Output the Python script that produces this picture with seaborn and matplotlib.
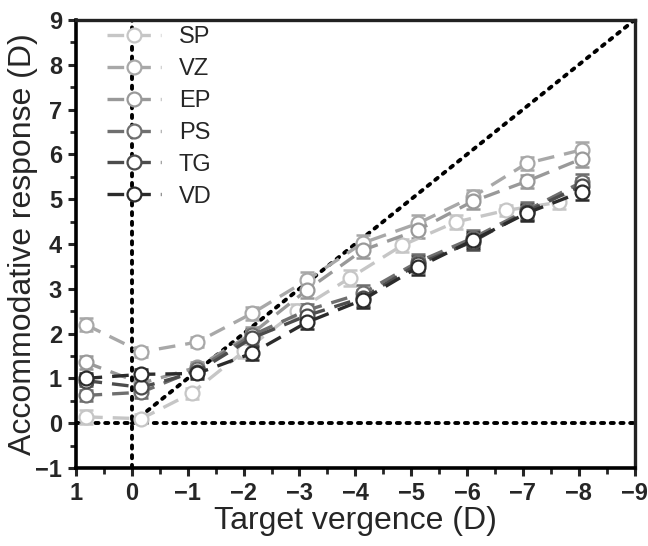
import matplotlib
matplotlib.use("Agg")
import matplotlib.pyplot as plt
import numpy as np
import pandas as pd
import seaborn as sns
from matplotlib.ticker import MultipleLocator

# target vergence (D) for each stimulus step; SP sits slightly shifted
x_main = [0.83, -0.17, -1.17, -2.15, -3.13, -4.13, -5.12, -6.10, -7.07, -8.05]
x_sp = [0.82, -0.17, -1.07, -2.00, -2.95, -3.90, -4.84, -5.80, -6.70, -7.64]

# accommodative response (D)
sp = [0.14, 0.10, 0.67, 1.60, 2.50, 3.24, 3.97, 4.49, 4.75, 4.93]
vz = [2.20, 1.59, 1.81, 2.45, 3.19, 4.02, 4.46, 5.05, 5.80, 6.10]
ep = [1.36, 0.89, 1.25, 2.00, 2.97, 3.86, 4.31, 4.95, 5.40, 5.90]
ps = [0.62, 0.69, 1.20, 1.96, 2.52, 2.90, 3.60, 4.13, 4.75, 5.38]
tg = [0.95, 0.80, 1.15, 1.90, 2.40, 2.80, 3.55, 4.05, 4.72, 5.30]
vd = [1.00, 1.09, 1.11, 1.56, 2.25, 2.75, 3.48, 4.08, 4.69, 5.16]

# standard errors (D)
sp_err = [0.15, 0.10, 0.12, 0.15, 0.15, 0.18, 0.15, 0.15, 0.12, 0.15]
vz_err = [0.15, 0.12, 0.12, 0.15, 0.18, 0.18, 0.18, 0.15, 0.15, 0.18]
ep_err = [0.15, 0.12, 0.12, 0.15, 0.18, 0.18, 0.18, 0.18, 0.15, 0.18]
ps_err = [0.12, 0.12, 0.12, 0.15, 0.15, 0.18, 0.18, 0.18, 0.18, 0.18]
tg_err = [0.12, 0.12, 0.12, 0.15, 0.15, 0.18, 0.18, 0.18, 0.18, 0.18]
vd_err = [0.12, 0.12, 0.12, 0.15, 0.15, 0.18, 0.18, 0.18, 0.18, 0.18]

subjects = ["SP", "VZ", "EP", "PS", "TG", "VD"]
colors = ["#c6c6c6", "#a8a8a8", "#999999", "#6f6f6f", "#4c4c4c", "#2b2b2b"]

series = [
    (x_sp, sp, sp_err),
    (x_main, vz, vz_err),
    (x_main, ep, ep_err),
    (x_main, ps, ps_err),
    (x_main, tg, tg_err),
    (x_main, vd, vd_err),
]

sns.set_style("ticks")
plt.rcParams["font.family"] = ["Liberation Sans", "DejaVu Sans"]

fig = plt.figure(figsize=(6.48, 5.46), dpi=100)
ax = fig.add_axes([0.1173, 0.1429, 0.8620, 0.8205])

# reference lines
dot = (0, (0.8, 1.7))
ax.plot([0, -9], [0, 9], color="black", linestyle=dot, lw=2.8,
        dash_capstyle="round", zorder=1)
ax.axhline(0, color="black", linestyle=dot, lw=2.8, dash_capstyle="round", zorder=1)
ax.axvline(0, color="black", linestyle=dot, lw=2.8, dash_capstyle="round", zorder=1)

for name, col, (xs, ys, es) in zip(subjects, colors, series):
    df = pd.DataFrame({"x": xs, "y": ys})
    ax.errorbar(xs, ys, yerr=es, fmt="none", ecolor=col, elinewidth=1.5,
                capsize=5, capthick=1.8, zorder=2)
    sns.lineplot(data=df, x="x", y="y", ax=ax, color=col, lw=2.4,
                 linestyle=(0, (5, 3)), marker="o", markersize=10,
                 markerfacecolor="white", markeredgecolor=col,
                 markeredgewidth=1.6, label=name, estimator=None, sort=False,
                 zorder=3)

ax.set_xlim(1, -9)
ax.set_ylim(-1, 9)
ax.xaxis.set_major_locator(MultipleLocator(1))
ax.xaxis.set_minor_locator(MultipleLocator(0.5))
ax.yaxis.set_major_locator(MultipleLocator(1))
ax.yaxis.set_minor_locator(MultipleLocator(0.5))
ax.tick_params(which="major", direction="out", length=6, width=2.2,
               labelsize=17, pad=4)
ax.tick_params(which="minor", direction="out", length=4, width=2.0)
for lab in ax.get_xticklabels() + ax.get_yticklabels():
    lab.set_fontweight("bold")
for sp_name in ["left", "bottom"]:
    ax.spines[sp_name].set_linewidth(2.6)
    ax.spines[sp_name].set_color("black")
for sp_name in ["top", "right"]:
    ax.spines[sp_name].set_linewidth(2.4)
    ax.spines[sp_name].set_color("#222222")

ax.set_xlabel("Target vergence (D)", fontsize=23, labelpad=1)
ax.set_ylabel("Accommodative response (D)", fontsize=23, labelpad=-2)

ax.legend(loc="upper left", bbox_to_anchor=(0.03, 1.018), frameon=False,
          fontsize=17, handlelength=2.3, handletextpad=0.75, labelspacing=0.42,
          borderaxespad=0.2)

fig.savefig("out.png", dpi=100)
